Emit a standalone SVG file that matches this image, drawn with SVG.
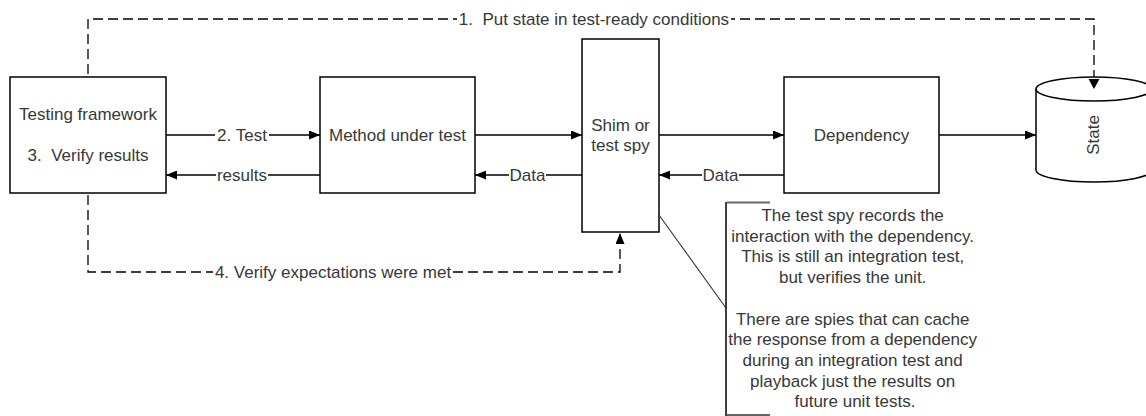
<svg xmlns="http://www.w3.org/2000/svg" width="1146" height="416" viewBox="0 0 1146 416">
  <style>
    .box{fill:#fff;stroke:#000;stroke-width:1.5}
    .lbl{font-family:"Liberation Sans",Arial,sans-serif;font-size:17px;fill:#383838;text-anchor:middle}
    .wire{fill:none;stroke:#000;stroke-width:1.3}
    .dash{fill:none;stroke:#000;stroke-width:1.3;stroke-dasharray:10 5}
    .note{fill:none;stroke:#111;stroke-width:1.6}
    .tick{fill:none;stroke:#666;stroke-width:2}
    .leader{fill:none;stroke:#333;stroke-width:1.1}
  </style>
  <defs>
    <marker id="arrow" viewBox="0 0 11 9" refX="11" refY="4.5" markerWidth="11" markerHeight="9" markerUnits="userSpaceOnUse" orient="auto">
      <path d="M0,0 L11,4.5 L0,9 Z" fill="#000"/>
    </marker>
  </defs>

  <rect width="1146" height="416" fill="#fff"/>

  <!-- connectors -->
  <g id="connectors">
    <!-- 1. set up state -->
    <path class="dash" style="stroke-dashoffset:6" d="M457,19 H88 V77"/>
    <path class="dash" style="stroke-dashoffset:6" d="M731,19 H1094 V77"/>
    <text class="lbl" x="594" y="25" xml:space="preserve">1.  Put state in test-ready conditions</text>

    <!-- 2. test call -->
    <path class="wire" d="M166,135 H215"/>
    <path class="wire" d="M269,135 H320" marker-end="url(#arrow)"/>
    <text class="lbl" x="242" y="141">2. Test</text>

    <!-- results back -->
    <path class="wire" d="M320,175 H268"/>
    <path class="wire" d="M216,175 H166" marker-end="url(#arrow)"/>
    <text class="lbl" x="242" y="181">results</text>

    <!-- method -> shim -->
    <path class="wire" d="M475,135 H582" marker-end="url(#arrow)"/>
    <path class="wire" d="M582,175 H546"/>
    <path class="wire" d="M509,175 H475" marker-end="url(#arrow)"/>
    <text class="lbl" x="527.5" y="181">Data</text>

    <!-- shim -> dependency -->
    <path class="wire" d="M659,135 H784" marker-end="url(#arrow)"/>
    <path class="wire" d="M784,175 H739"/>
    <path class="wire" d="M702,175 H659" marker-end="url(#arrow)"/>
    <text class="lbl" x="720.5" y="181">Data</text>

    <!-- dependency -> state -->
    <path class="wire" d="M939,135 H1036" marker-end="url(#arrow)"/>

    <!-- 4. verify expectations -->
    <path class="dash" style="stroke-dashoffset:3" d="M213,272 H88 V193"/>
    <path class="dash" d="M453,272 H620 V233" marker-end="url(#arrow)"/>
    <text class="lbl" x="333" y="278">4. Verify expectations were met</text>
  </g>

  <!-- nodes -->
  <g id="testing-framework">
    <rect class="box" x="10" y="77" width="156" height="116"/>
    <text class="lbl" x="88" y="120">Testing framework</text>
    <text class="lbl" x="88" y="161" xml:space="preserve">3.  Verify results</text>
  </g>

  <g id="method-under-test">
    <rect class="box" x="320" y="77" width="155" height="116"/>
    <text class="lbl" x="397.5" y="141">Method under test</text>
  </g>

  <g id="shim">
    <rect class="box" x="582" y="39" width="77" height="193"/>
    <text class="lbl" x="620.5" y="131">Shim or</text>
    <text class="lbl" x="620.5" y="151">test spy</text>
  </g>

  <g id="dependency">
    <rect class="box" x="784" y="77" width="155" height="116"/>
    <text class="lbl" x="861.5" y="141">Dependency</text>
  </g>

  <!-- cylinder, wider than the canvas on the right -->
  <g id="state">
    <path class="box" d="M1036,89 A58,12 0 0 1 1152,89 L1152,170 A58,12 0 0 1 1036,170 Z"/>
    <path class="box" style="fill:none" d="M1036,89 A58,12 0 0 0 1152,89"/>
    <!-- head of the set-up connector, resting on the lid -->
    <path d="M1088.5,79 L1099.5,79 L1094,89 Z" fill="#000"/>
    <text class="lbl" x="1093" y="141" transform="rotate(-90 1093 135)">State</text>
  </g>

  <!-- annotation on the shim -->
  <g id="note">
    <path class="leader" d="M659,215 L726,308"/>
    <path class="tick" d="M770,202.5 H727"/>
    <path class="note" d="M726,202 V416"/>
    <path class="tick" d="M727,415 H770"/>
    <text class="lbl">
      <tspan x="855" y="221">The test spy records the</tspan>
      <tspan x="855" y="241.7">interaction with the dependency.</tspan>
      <tspan x="855" y="262.4">This is still an integration test,</tspan>
      <tspan x="855" y="283.1">but verifies the unit.</tspan>
      <tspan x="855" y="324.5">There are spies that can cache</tspan>
      <tspan x="855" y="345.2">the response from a dependency</tspan>
      <tspan x="855" y="365.9">during an integration test and</tspan>
      <tspan x="855" y="386.6">playback just the results on</tspan>
      <tspan x="855" y="407.3">future unit tests.</tspan>
    </text>
  </g>
</svg>
